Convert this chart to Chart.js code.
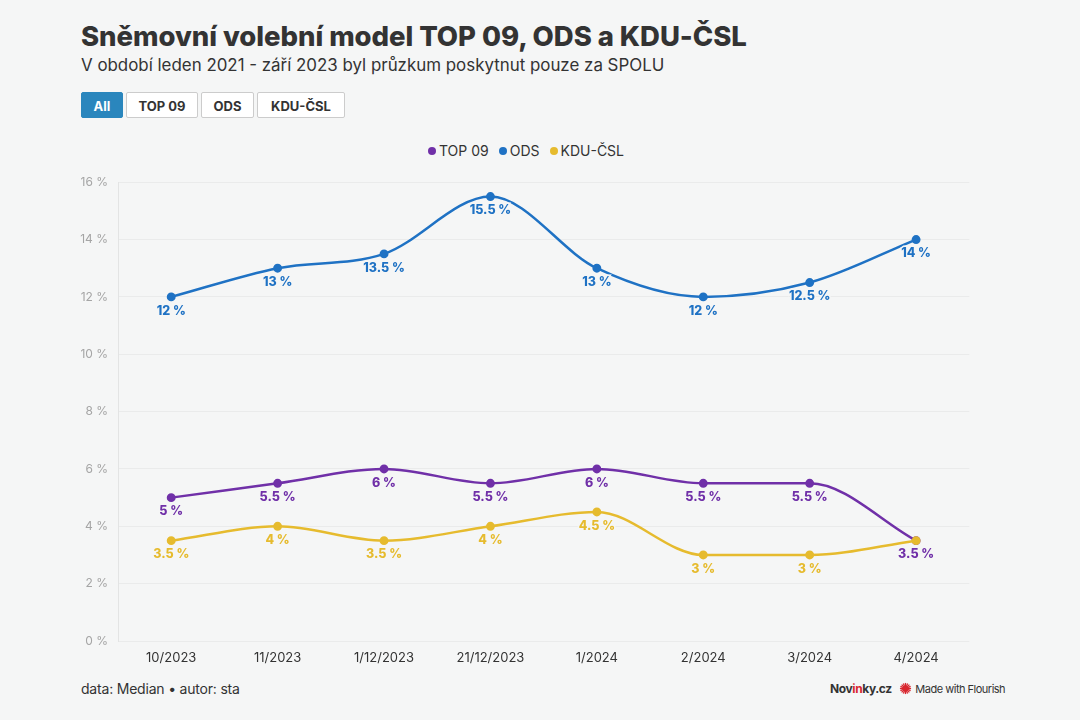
<!DOCTYPE html>
<html><head><meta charset="utf-8">
<script src="https://cdn.jsdelivr.net/npm/chart.js@4"></script>
<style>
html,body{margin:0;padding:0;background:#f5f6f6;width:1080px;height:720px;overflow:hidden;font-family:Inter,"Noto Sans",sans-serif;color:#333;}
#title{position:absolute;left:81px;top:19px;font-size:27.5px;font-weight:800;letter-spacing:-0.05px;color:#333;}
#sub{position:absolute;left:81px;top:55px;font-size:16.9px;color:#333;}
.btn{position:absolute;top:92px;height:26px;line-height:26px;font-size:13px;font-weight:700;text-align:center;border:1px solid #ccc;border-radius:2px;background:#fff;color:#333;box-sizing:border-box;}
.btn.on{background:#2a86bd;border-color:#2a86bd;color:#fff;}
#legend{position:absolute;top:142px;left:428px;white-space:nowrap;font-size:14px;color:#333;}
#legend span{margin-right:10px;}
#legend i{display:inline-block;width:8px;height:8px;border-radius:50%;margin-right:3px;vertical-align:1px;}
#wrap{position:absolute;left:60px;top:165px;width:915px;height:505px;}
#foot{position:absolute;left:81px;top:680px;font-size:14px;color:#333;letter-spacing:-0.2px;}
#brand{position:absolute;left:830px;top:681px;font-size:11px;color:#333;white-space:nowrap;letter-spacing:-0.5px;}
</style></head><body>
<div id="title">Sněmovní volební model TOP 09, ODS a KDU-ČSL</div>
<div id="sub">V období leden 2021 - září 2023 byl průzkum poskytnut pouze za SPOLU</div>
<div class="btn on" style="left:81px;width:42px;">All</div>
<div class="btn" style="left:126px;width:72px;">TOP 09</div>
<div class="btn" style="left:201px;width:53px;">ODS</div>
<div class="btn" style="left:257px;width:88px;">KDU-ČSL</div>
<div id="legend"></div>
<div id="wrap"><canvas id="c"></canvas></div>
<div id="foot">data: Median • autor: sta</div>
<div id="brand"><span style="font-weight:700;font-size:12px;letter-spacing:-0.4px">Nov<span style="color:#d8262e">in</span>ky.cz</span>
<svg width="13" height="13" viewBox="-7 -7 14 14" style="vertical-align:-2px;margin:0 3px 0 5px"><g stroke="#d8262e" stroke-width="1.4"><line x1="-6" y1="0" x2="6" y2="0"/><line x1="0" y1="-6" x2="0" y2="6"/><line x1="-4.2" y1="-4.2" x2="4.2" y2="4.2"/><line x1="-4.2" y1="4.2" x2="4.2" y2="-4.2"/><line x1="-5.5" y1="-2.3" x2="5.5" y2="2.3"/><line x1="-2.3" y1="-5.5" x2="2.3" y2="5.5"/><line x1="-5.5" y1="2.3" x2="5.5" y2="-2.3"/><line x1="-2.3" y1="5.5" x2="2.3" y2="-5.5"/></g><circle r="2.5" fill="#d8262e"/></svg>Made with Flourish</div>
<script>
const categories = ["10/2023","11/2023","1/12/2023","21/12/2023","1/2024","2/2024","3/2024","4/2024"];
const top09 = [5, 5.5, 6, 5.5, 6, 5.5, 5.5, 3.5];
const ods = [12, 13, 13.5, 15.5, 13, 12, 12.5, 14];
const kdu = [3.5, 4, 3.5, 4, 4.5, 3, 3, 3.5];
const seriesNames = ["TOP 09", "ODS", "KDU-ČSL"];
const seriesColors = ["#7030a8", "#1f72c4", "#e6bb2e"];
const yTicks = [0, 2, 4, 6, 8, 10, 12, 14, 16];

document.getElementById('legend').innerHTML = seriesNames.map((n,i)=>`<span><i style="background:${seriesColors[i]}"></i>${n}</span>`).join('');

const fmt = v => String(v) + ' %';
const labelPlugin = {
  id: 'pointLabels',
  afterDatasetsDraw(chart) {
    const ctx = chart.ctx;
    ctx.save();
    ctx.font = '800 12.5px Inter, "Noto Sans", sans-serif';
    ctx.textAlign = 'center';
    ctx.textBaseline = 'middle';
    const placed = [];
    chart.data.datasets.forEach((ds, di) => {
      const meta = chart.getDatasetMeta(di);
      meta.data.forEach((pt, i) => {
        const t = fmt(ds.data[i]);
        const w = ctx.measureText(t).width, h = 13;
        const box = { x1: pt.x - w/2, x2: pt.x + w/2, y1: pt.y + 14 - h/2, y2: pt.y + 14 + h/2 };
        if (placed.some(b => b.x1 < box.x2 && box.x1 < b.x2 && b.y1 < box.y2 && box.y1 < b.y2)) return;
        placed.push(box);
        ctx.lineWidth = 3;
        ctx.strokeStyle = '#f5f6f6';
        ctx.strokeText(t, pt.x, pt.y + 14);
        ctx.fillStyle = ds.borderColor;
        ctx.fillText(t, pt.x, pt.y + 14);
      });
    });
    ctx.restore();
  }
};

const mk = (name, data, color, order) => ({
  label: name, data, borderColor: color, backgroundColor: color, order,
  borderWidth: 2.5, pointRadius: 3.2, pointHoverRadius: 3.2,
  cubicInterpolationMode: 'monotone', fill: false
});

new Chart(document.getElementById('c'), {
  type: 'line',
  data: {
    labels: categories,
    datasets: [mk(seriesNames[0], top09, seriesColors[0], 2), mk(seriesNames[1], ods, seriesColors[1], 1), mk(seriesNames[2], kdu, seriesColors[2], 0)]
  },
  options: {
    responsive: true, maintainAspectRatio: false, animation: false,
    layout: { padding: { top: 16, right: 0, left: 0, bottom: 0 } },
    plugins: { legend: { display: false }, tooltip: { enabled: false } },
    scales: {
      x: {
        offset: true,
        grid: { display: false, drawTicks: false },
        border: { display: false },
        ticks: { color: '#333', font: { size: 13, family: 'Inter, "Noto Sans", sans-serif' }, padding: 9, maxRotation: 0, autoSkip: false },
        afterFit(s) { s.height = 29; }
      },
      y: {
        min: 0, max: 16,
        afterBuildTicks(s) { s.ticks = yTicks.map(v => ({ value: v })); },
        grid: { color: '#eaebeb', lineWidth: 1, drawTicks: false },
        border: { display: true, color: '#e3e4e4' },
        ticks: { color: '#a5a5a5', font: { size: 12, family: 'Inter, "Noto Sans", sans-serif' }, padding: 10, callback: v => v + ' %' },
        afterFit(s) { s.width = 58; }
      }
    }
  },
  plugins: [labelPlugin]
});
</script>
</body></html>
